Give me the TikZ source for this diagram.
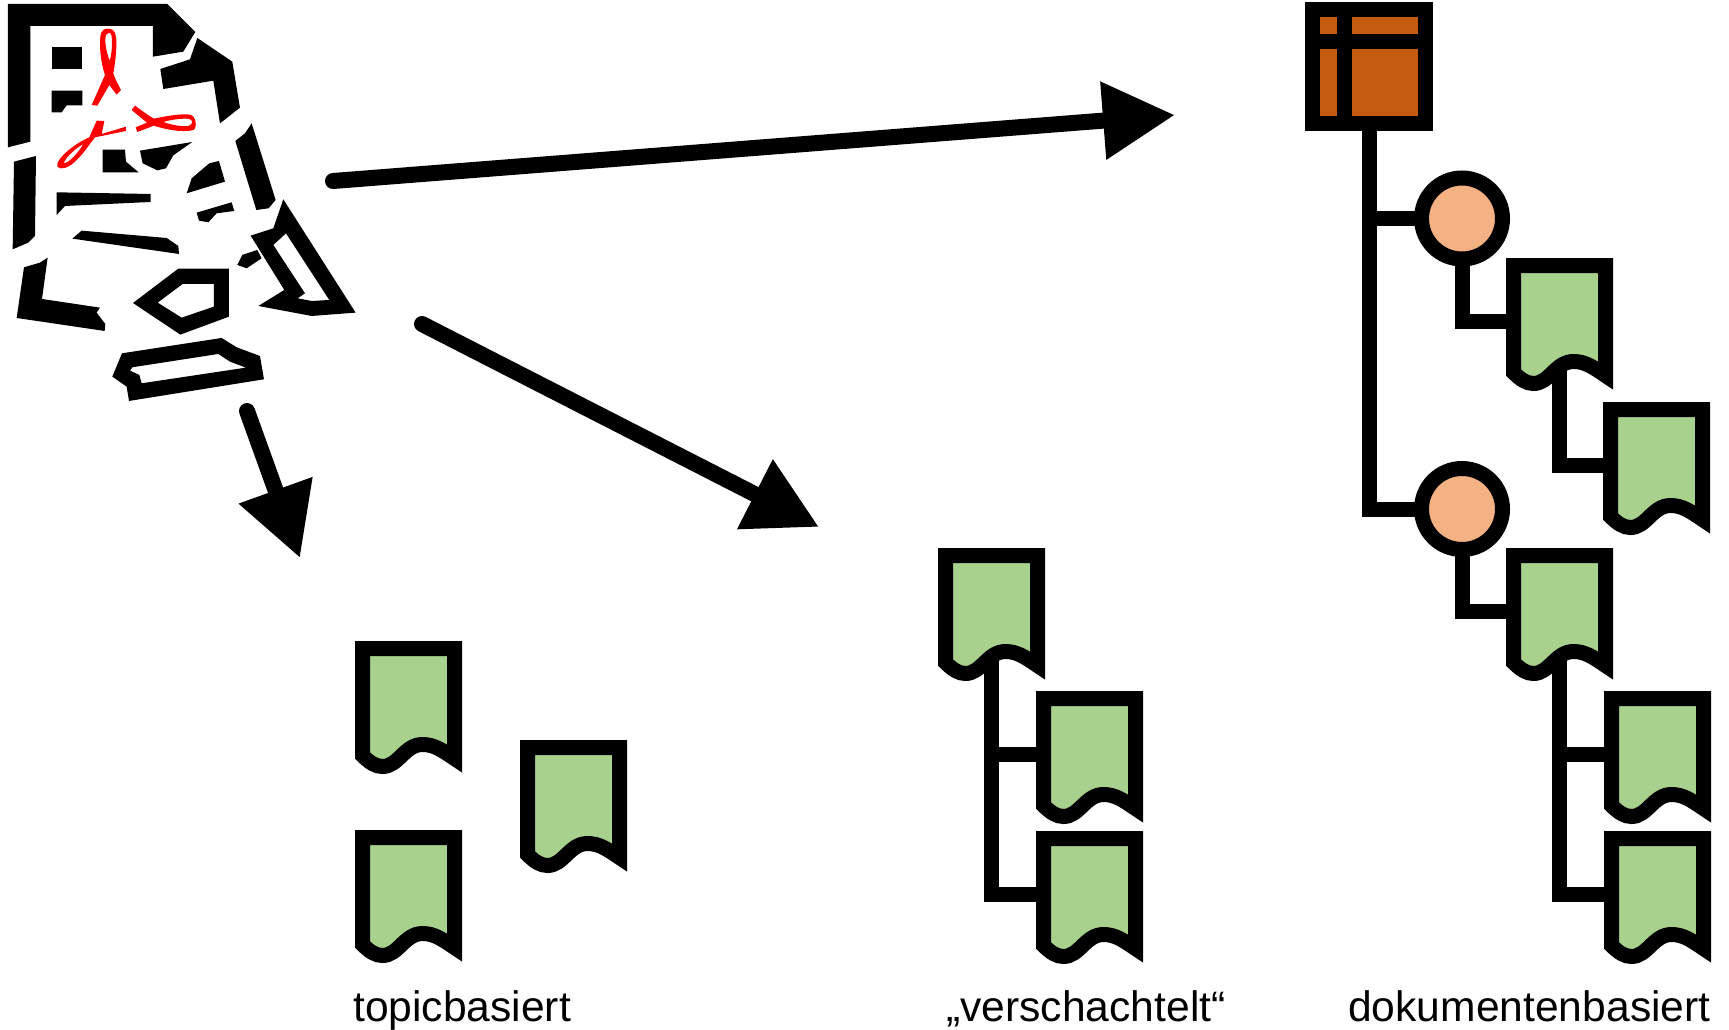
\documentclass[tikz,border=0pt]{standalone}
\usepackage{fontspec}
\setmainfont{Liberation Sans}
\usetikzlibrary{arrows.meta,backgrounds}

\definecolor{topicgreen}{HTML}{A9D18E}
\definecolor{mapbrown}{HTML}{C55A11}
\definecolor{headpeach}{HTML}{F4B183}

\tikzset{
    thick line/.style={line width=15pt, miter limit=10},
    topicbox/.style={anchor=north west, inner sep=0pt, outer sep=0pt, minimum width=92pt, minimum height=112pt},
    topicline/.style={thick line, draw=black, fill=topicgreen},
    bigarrow/.style={line width=16pt, line cap=round, -{Triangle[length=72pt,width=74pt]}},
    branch/.style={line width=15pt},
    ribbon/.style={fill=red, even odd rule},
    caption/.style={anchor=base west, inner sep=0pt, font=\fontsize{42.6}{50}\selectfont}
}

\newcommand{\topic}[3]{
    \node[topicbox] (#1) at (#2,#3) {};
    \draw[topicline, shift={(#1.north west)}] (0,107) .. controls (7,114) and (13,118) .. (20,118)
        .. controls (36,118) and (42,96) .. (60,96) .. controls (72,96) and (80,102) .. (92,110)
        -- (92,0) -- (0,0) -- cycle;
}

\begin{document}
\begin{tikzpicture}[x=1pt,y=-1pt]
    \useasboundingbox (0,0) rectangle (1729,1030);

    % pdf icon, cut into pieces
    \begin{scope}[scale=0.3333]
        \fill (24,12) -- (502,12) -- (586,96) -- (550,155) -- (459,170) -- (459,78) -- (91,78) -- (91,425) -- (24,442) -- cycle;
        \fill (592,114) -- (697,185) -- (720,323) -- (660,370) -- (640,242) -- (490,267) -- (481,207) -- (570,178) -- cycle;
        \fill (755,370) -- (827,600) -- (806,625) -- (769,630) -- (706,423) -- (735,400) -- cycle;
        \fill (42,485) -- (108,468) -- (105,708) -- (85,728) -- (38,748) -- cycle;
        \fill (72,802) -- (120,788) -- (143,773) -- (126,897) -- (300,923) -- (290,938) -- (316,972) -- (314,993) -- (50,954) -- cycle;
        \fill (155,142) -- (247,142) -- (247,208) -- (155,208) -- cycle;
        \fill (155,272) -- (247,272) -- (247,316) -- (200,316) -- (185,337) -- (155,337) -- cycle;
        \fill (308,449) -- (375,449) -- (378,485) -- (416,517) -- (308,517) -- cycle;
        \fill (420,452) -- (577,426) -- (520,466) -- (498,505) -- (472,511) -- (428,490) -- cycle;
        \fill (560,580) -- (575,535) -- (628,490) -- (657,483) -- (675,545) -- cycle;
        \fill (170,577) -- (452,582) -- (452,606) -- (195,618) -- (170,645) -- cycle;
        \fill (217,716) -- (245,692) -- (500,714) -- (535,738) -- (537,762) -- cycle;
        \fill (590,638) -- (695,607) -- (703,633) -- (650,640) -- (625,667) -- (597,662) -- cycle;
        \fill (712,795) -- (727,765) -- (772,750) -- (785,775) -- (740,805) -- cycle;
        \fill[even odd rule] (850,598) -- (1067,938) -- (935,948) -- (775,918) -- (853,870) -- (752,707) -- (820,685) -- cycle
            (820,735) -- (858,700) -- (988,900) -- (935,903) -- (893,895) -- (915,880) -- cycle;
        \fill[even odd rule] (535,806) -- (687,806) -- (687,950) -- (541,1004) -- (399,909) -- cycle
            (548,852) -- (642,852) -- (642,920) -- (545,953) -- (473,908) -- cycle;
        \fill[even odd rule] (366,1060) -- (665,1014) -- (710,1042) -- (780,1068) -- (792,1138) -- (387,1203) -- (380,1160) -- (337,1130) -- cycle
            (397,1102) -- (655,1062) -- (690,1085) -- (738,1103) -- (425,1150) -- (418,1125) -- (390,1112) -- cycle;

        % red ribbon
        \path[ribbon] (292,317) -- (328,255) -- (350,284) -- (363,270) .. controls (350,245) and (340,225) .. (340,220)
            .. controls (346,190) and (352,130) .. (348,110) .. controls (345,90) and (335,86) .. (322,86)
            .. controls (305,86) and (300,100) .. (300,130) .. controls (300,170) and (308,205) .. (315,225) -- (275,315) -- cycle
            (327,98) .. controls (335,98) and (336,110) .. (336,130) .. controls (336,150) and (333,170) .. (329,182)
            .. controls (321,160) and (316,140) .. (316,120) .. controls (316,106) and (320,98) .. (327,98) -- cycle;
        \path[ribbon] (395,330) -- (405,317) .. controls (430,335) and (450,350) .. (462,356)
            .. controls (490,350) and (540,340) .. (570,344) .. controls (590,348) and (592,385) .. (580,390)
            .. controls (550,398) and (500,390) .. (462,377) -- (412,396) -- (407,382) -- (441,368) -- cycle
            (490,366) .. controls (512,359) and (550,354) .. (568,357) .. controls (580,361) and (580,372) .. (565,378)
            .. controls (540,380) and (512,374) .. (490,366) -- cycle;
        \path[ribbon] (290,362) -- (268,412) .. controls (220,432) and (165,480) .. (172,500)
            .. controls (195,520) and (235,480) .. (260,445) -- (285,412) -- (378,393) -- (378,380) -- (305,402) -- (313,363) -- cycle
            (250,432) .. controls (222,448) and (192,478) .. (192,490) .. controls (208,488) and (235,458) .. (250,432) -- cycle;
    \end{scope}

    % arrows out of the pdf
    \coordinate (startMap) at (333,181);
    \coordinate (endMap) at (1175,115);
    \coordinate (startNest) at (422,324);
    \coordinate (endNest) at (819,527);
    \coordinate (startTopic) at (247,411);
    \coordinate (endTopic) at (300,558);
    \draw[bigarrow] (startMap) -- (endMap);
    \draw[bigarrow] (startNest) -- (endNest);
    \draw[bigarrow] (startTopic) -- (endTopic);

    % topicbasiert
    \topic{loneA}{362.5}{648.5}
    \topic{loneB}{527.5}{747.5}
    \topic{loneC}{362.5}{837.5}

    % verschachtelt
    \topic{nest}{945.5}{555.5}
    \topic{nestA}{1043.5}{698.5}
    \topic{nestB}{1043.5}{838.5}

    % dokumentenbasiert
    \node[draw, thick line, fill=mapbrown, inner sep=0pt, outer sep=0pt, minimum width=113pt, minimum height=114pt] (map) at (1369,67) {};
    \draw[thick line] ([xshift=32pt]map.north west) -- ([xshift=32pt]map.south west);
    \draw[thick line] ([yshift=-32pt]map.north west) -- ([yshift=-32pt]map.north east);
    \node[draw, thick line, fill=headpeach, circle, inner sep=0pt, outer sep=0pt, minimum size=81pt] (headA) at (1462,218.5) {};
    \node[draw, thick line, fill=headpeach, circle, inner sep=0pt, outer sep=0pt, minimum size=81pt] (headB) at (1462,509) {};
    \topic{docA}{1513.5}{265.5}
    \topic{docB}{1610.5}{409.5}
    \topic{docC}{1513.5}{555.5}
    \topic{docD}{1611.5}{698.5}
    \topic{docE}{1611.5}{838.5}

    \begin{scope}[on background layer]
        \draw[branch] (nest.center) |- (nestA.west);
        \draw[branch] (nest.center) |- (nestB.west);
        \draw[branch] (map.south) |- (headA.west);
        \draw[branch] (map.south) |- (headB.west);
        \draw[branch] (headA.south) |- (docA.west);
        \draw[branch] (docA.center) |- (docB.west);
        \draw[branch] (headB.south) |- (docC.west);
        \draw[branch] (docC.center) |- (docD.west);
        \draw[branch] (docC.center) |- (docE.west);
    \end{scope}

    \node[caption] (capTopic) at (353,1021) {topicbasiert};
    \node[caption] (capNest) at (946,1021) {„verschachtelt“};
    \node[caption] (capDoc) at (1348,1021) {dokumentenbasiert};
\end{tikzpicture}
\end{document}
